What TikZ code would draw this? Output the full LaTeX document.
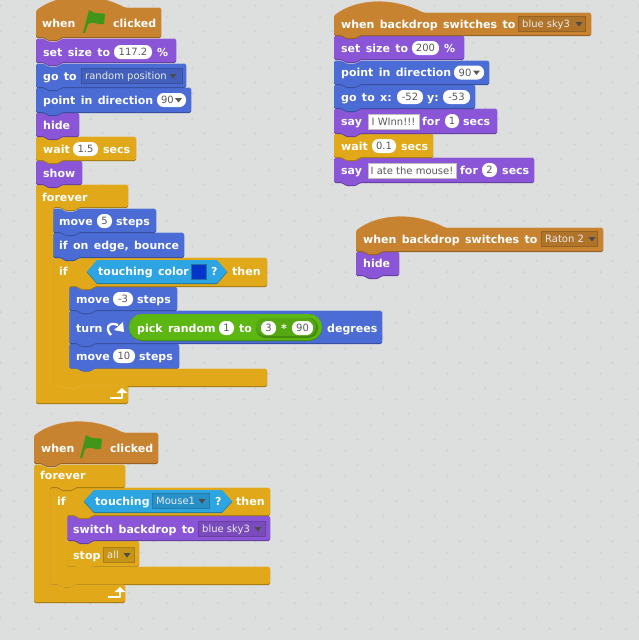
\documentclass[tikz,border=0pt]{standalone}
\usepackage{fontspec}
\setmainfont{DejaVu Sans}
\newfontfamily\blockfont[WordSpace=1.4]{DejaVu Sans Bold}
\usepackage{tikz}

\definecolor{stagebg}{HTML}{DDDFDF}
\definecolor{gridplus}{HTML}{D2D4D4}
\definecolor{eventc}{HTML}{C88330}
\definecolor{looksc}{HTML}{8A55D7}
\definecolor{motionc}{HTML}{4A6CD4}
\definecolor{controlc}{HTML}{E1A91A}
\definecolor{sensingc}{HTML}{2CA5E2}
\definecolor{opsc}{HTML}{5CB712}
\definecolor{flagc}{HTML}{3F9618}
\definecolor{swatchc}{HTML}{0633C8}

\newcounter{labc}
\newcommand{\bpath}[5]{(#1,#2) -- ({#1+8},#2) -- ({#1+12},{#2+3}) -- ({#1+22},{#2+3}) -- ({#1+26},#2) -- (#3,#2) -- (#3,#4) -- ({#1+26},#4) -- ({#1+22},{#4+#5}) -- ({#1+12},{#4+#5}) -- ({#1+8},#4) -- (#1,#4) -- cycle}
\newcommand{\hpath}[4]{(#1,{#2+3}) .. controls ({#1+22},{#2-14}) and ({#1+58},{#2-16}) .. ({#1+89},#2) -- (#3,#2) -- (#3,#4) -- ({#1+26},#4) -- ({#1+22},{#4+3}) -- ({#1+12},{#4+3}) -- ({#1+8},#4) -- (#1,#4) -- cycle}
\newcommand{\cpath}[9]{(#1,#2) -- ({#1+8},#2) -- ({#1+12},{#2+3}) -- ({#1+22},{#2+3}) -- ({#1+26},#2) -- (#3,#2) -- (#3,#5) -- ({#4+26},#5) -- ({#4+22},{#5+3}) -- ({#4+12},{#5+3}) -- ({#4+8},#5) -- (#4,#5) -- (#4,#6) -- ({#4+8},#6) -- ({#4+12},{#6+3}) -- ({#4+22},{#6+3}) -- ({#4+26},#6) -- (#8,#6) -- (#8,#7) -- ({#1+26},#7) -- ({#1+22},{#7+#9}) -- ({#1+12},{#7+#9}) -- ({#1+8},#7) -- (#1,#7) -- cycle}
\newcommand{\shaded}[2]{
  \path[fill=#1!72!black,rounded corners=1.5pt,shift={(0,1)}] #2;
  \path[fill=#1!85!white,rounded corners=1.5pt,shift={(0,-0.5)}] #2;
  \path[fill=#1,rounded corners=1.5pt] #2;
}
\newcommand{\lab}[3]{\stepcounter{labc}\node[blocktext] (lab\thelabc) at (#1,#2) {#3};}
\newcommand{\pill}[4]{\stepcounter{labc}\node[pillbox,minimum width={(#2-#1)*1pt}] (pill\thelabc) at ({(#1+#2)/2},#3) {#4};}
\newcommand{\pillarrow}[4]{\pill{#1}{#2}{#3}{#4\kern8pt}\path[fill=black!65] ({#2-11},{#3-2}) -- ({#2-4},{#3-2}) -- ({#2-7.5},{#3+2.5}) -- cycle;}
\newcommand{\strfield}[4]{\stepcounter{labc}\node[strbox,minimum width={(#2-#1)*1pt}] (str\thelabc) at ({(#1+#2)/2},#3) {#4};}
\newcommand{\drop}[7]{\stepcounter{labc}
  \path[fill=#5!88!black,draw=#5!75!black,line width=0.8pt] (#1,{#3-7.5}) rectangle (#2,{#3+7.5});
  \node[droptext] (drop\thelabc) at ({#1+4},#3) {#6};
  \path[fill=black!70] ({#7-3.5},{#3-2}) -- ({#7+3.5},{#3-2}) -- (#7,{#3+2.5}) -- cycle;}
\newcommand{\flag}[2]{
  \path[fill=flagc,shift={(#1,#2)}] (0,23) -- (6,0) -- (8,1) .. controls (12,5) and (17,2) .. (22,4) -- (21,14) .. controls (16,16) and (9,10) .. (5,14) -- (2,23) -- cycle;
}
\newcommand{\looparrow}[2]{
  \path[draw=white,line width=1.8pt,line join=round] (#1,#2) -- ({#1+12},#2) -- ({#1+12},{#2-6});
  \path[fill=white] ({#1+6.5},{#2-5}) -- ({#1+12},{#2-10}) -- ({#1+17.5},{#2-5}) -- cycle;
}

\begin{document}
\begin{tikzpicture}[x=1pt,y=-1pt,
  blocktext/.style={anchor=west,inner sep=0pt,text=white,text height=8pt,text depth=0pt,font=\blockfont\fontsize{11}{11}\selectfont},
  pillbox/.style={fill=white,rounded corners=6.5pt,inner sep=0pt,minimum height=14pt,text=black!65,text height=7.5pt,text depth=0pt,font=\fontsize{10}{10}\selectfont},
  strbox/.style={fill=white,draw=black!25,line width=0.5pt,inner sep=0pt,minimum height=15pt,text=black!65,text height=7.5pt,text depth=0pt,font=\fontsize{10}{10}\selectfont},
  droptext/.style={anchor=west,inner sep=0pt,text=white!92!black,text height=7.5pt,text depth=0pt,font=\fontsize{10}{10}\selectfont},
]
\path[fill=stagebg,use as bounding box] (0,0) rectangle (639,640);
\foreach \row in {0,...,25}
  \foreach \col in {0,...,25} {
    \path[draw=gridplus,line width=0.6pt] ({\col*25.5+0.6-1.5},{\row*25.5+5.8}) -- ++(3,0) ({\col*25.5+0.6},{\row*25.5+5.8-1.5}) -- ++(0,3);
    \path[draw=gridplus,line width=0.6pt] ({\col*25.5+13.8-1.5},{\row*25.5+16.8}) -- ++(3,0) ({\col*25.5+13.8},{\row*25.5+16.8-1.5}) -- ++(0,3);
  }

% first stack, forever body goes first so upper blocks overlap it
\shaded{motionc}{\bpath{69}{344}{179}{368}{3}}
\shaded{motionc}{\bpath{69}{311}{382}{343}{3}}
\shaded{motionc}{\bpath{69}{287}{177}{310}{3}}
\shaded{controlc}{\cpath{53}{258}{267}{69}{286}{369}{386}{267}{3}}
\shaded{motionc}{\bpath{53}{233}{184}{257}{3}}
\shaded{motionc}{\bpath{53}{209}{156}{232}{3}}
\shaded{controlc}{\cpath{36}{185}{128}{53}{207}{386}{403}{128}{0}}
\shaded{looksc}{\bpath{36}{161}{82}{184}{3}}
\shaded{controlc}{\bpath{36}{137}{136}{160}{3}}
\shaded{looksc}{\bpath{36}{113}{79}{136}{3}}
\shaded{motionc}{\bpath{36}{88}{191}{112}{3}}
\shaded{motionc}{\bpath{36}{64}{186}{87}{3}}
\shaded{looksc}{\bpath{36}{39}{176}{62}{3}}
\shaded{eventc}{\hpath{36}{8}{161}{37}}

\lab{42}{23}{when}
\flag{83}{10}
\lab{113}{23}{clicked}
\lab{43}{52}{set size to}
\pill{114}{152}{52}{117.2}
\lab{157}{52}{\%}
\lab{43}{76}{go to}
\drop{81}{182}{76}{}{motionc}{random position}{173}
\lab{43}{100}{point in direction}
\pillarrow{157}{186}{100}{90}
\lab{43}{125}{hide}
\lab{43}{149}{wait}
\pill{73}{98}{149}{1.5}
\lab{103}{149}{secs}
\lab{43}{173}{show}
\lab{42}{197}{forever}
\lab{59}{221}{move}
\pill{97}{112}{221}{5}
\lab{116}{221}{steps}
\lab{59}{245}{if on edge, bounce}
\lab{59}{271}{if}
\path[fill=sensingc!72!black,shift={(0,1)}] (87,271.5) -- (97,260) -- (217,260) -- (227,271.5) -- (217,283) -- (97,283) -- cycle;
\path[fill=sensingc] (87,271.5) -- (97,260) -- (217,260) -- (227,271.5) -- (217,283) -- (97,283) -- cycle;
\lab{98}{271}{touching color}
\path[fill=swatchc,draw=sensingc!70!black,line width=0.7pt] (191,264) rectangle (206,279);
\lab{211}{271}{?}
\lab{232}{271}{then}
\lab{76}{299}{move}
\pill{113}{133}{299}{-3}
\lab{137}{299}{steps}
\lab{76}{328}{turn}
\path[draw=white,line width=2.3pt] (111,335) .. controls (105,329) and (108,321) .. (118,325);
\path[fill=white] (123,322) -- (124,332) -- (114,330) -- cycle;
\path[fill=opsc!75!black,rounded corners=13pt] (129,314) rectangle (322,341);
\path[fill=opsc,rounded corners=13pt] (129,314) rectangle (322,340);
\lab{137}{328}{pick random}
\pill{219}{234}{328}{1}
\lab{239}{328}{to}
\path[fill=opsc!75!black,rounded corners=9.5pt] (256,318) rectangle (318,338);
\path[fill=opsc!92!black,rounded corners=9pt] (256,318) rectangle (316,336);
\pill{261}{276}{328}{3}
\lab{281}{328}{*}
\pill{292}{313}{328}{90}
\lab{327}{328}{degrees}
\lab{76}{356}{move}
\pill{113}{135}{356}{10}
\lab{139}{356}{steps}
\looparrow{110}{398}

% second stack
\shaded{controlc}{\bpath{67}{541}{139}{566}{3}}
\shaded{looksc}{\bpath{67}{516}{270}{540}{3}}
\shaded{controlc}{\cpath{50}{488}{270}{67}{515}{567}{584}{270}{3}}
\path[fill=controlc] (74,567.6) rectangle (94,571);
\shaded{controlc}{\cpath{34}{465}{125}{50}{487}{585}{602}{125}{0}}
\shaded{eventc}{\hpath{34}{433}{158}{463}}

\lab{41}{448}{when}
\flag{80}{435}
\lab{110}{448}{clicked}
\lab{40}{475}{forever}
\lab{57}{501}{if}
\path[fill=sensingc!72!black,shift={(0,1)}] (84,501) -- (94,490) -- (222,490) -- (232,501) -- (222,512) -- (94,512) -- cycle;
\path[fill=sensingc] (84,501) -- (94,490) -- (222,490) -- (232,501) -- (222,512) -- (94,512) -- cycle;
\lab{95}{501}{touching}
\drop{152}{209}{501}{}{sensingc}{Mouse1}{202}
\lab{215}{501}{?}
\lab{236}{501}{then}
\lab{73}{529}{switch backdrop to}
\drop{198}{265}{529}{}{looksc}{blue sky3}{258}
\lab{73}{555}{stop}
\drop{103}{134}{555}{}{controlc}{all}{127}
\looparrow{108}{597}

% right stacks
\shaded{looksc}{\bpath{334}{158}{534}{182}{3}}
\shaded{controlc}{\bpath{334}{134}{433}{157}{3}}
\shaded{looksc}{\bpath{334}{109}{497}{133}{3}}
\shaded{motionc}{\bpath{334}{85}{475}{108}{3}}
\shaded{motionc}{\bpath{334}{61}{489}{84}{3}}
\shaded{looksc}{\bpath{334}{36}{464}{59}{3}}
\shaded{eventc}{\hpath{334}{13}{591}{35}}

\lab{341}{24}{when backdrop switches to}
\drop{518}{585}{24}{}{eventc}{blue sky3}{579}
\lab{341}{48}{set size to}
\pill{412}{439}{48}{200}
\lab{444}{48}{\%}
\lab{341}{72.5}{point in direction}
\pillarrow{454}{484}{72.5}{90}
\lab{341}{97}{go to x:}
\pill{397}{423}{97}{-52}
\lab{427}{97}{y:}
\pill{443}{470}{97}{-53}
\lab{341}{121}{say}
\strfield{368}{419}{121.5}{I WInn!!!}
\lab{422}{121}{for}
\pill{445}{459}{121}{1}
\lab{463}{121}{secs}
\lab{341}{146}{wait}
\pill{372}{396}{146}{0.1}
\lab{401}{146}{secs}
\lab{341}{170}{say}
\strfield{368}{456}{170.5}{I ate the mouse!}
\lab{460}{170}{for}
\pill{482}{497}{170}{2}
\lab{502}{170}{secs}

\shaded{looksc}{\bpath{356}{252}{399}{275}{3}}
\shaded{eventc}{\hpath{356}{228}{603}{251}}
\lab{363}{239}{when backdrop switches to}
\drop{541}{597}{239}{}{eventc}{Raton 2}{592}
\lab{363}{263}{hide}
\end{tikzpicture}
\end{document}
